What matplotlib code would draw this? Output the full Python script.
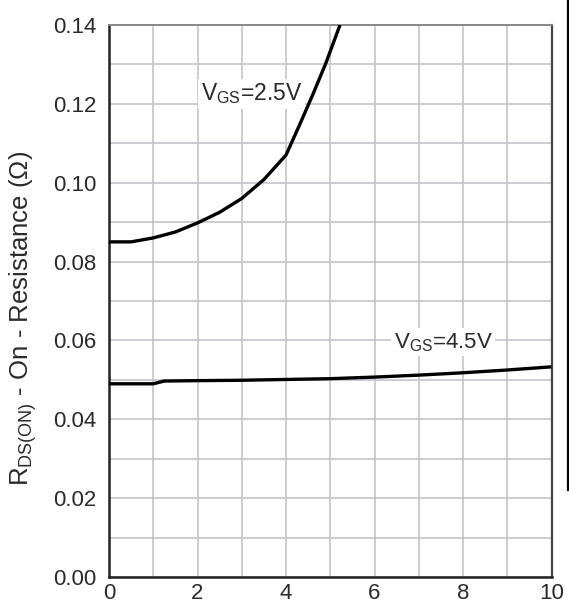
import matplotlib
matplotlib.use("Agg")
import matplotlib.pyplot as plt
from matplotlib.lines import Line2D
import numpy as np

# Data
vgs25_x = [0, 0.5, 1.0, 1.5, 2.0, 2.5, 3.0, 3.5, 4.0, 4.3, 4.6, 4.9, 5.22]
vgs25_y = [0.085, 0.085, 0.086, 0.0875, 0.0898, 0.0925, 0.096, 0.1008, 0.107, 0.1145, 0.1222, 0.1303, 0.140]
vgs45_x = [0, 1.0, 1.25, 2, 3, 4, 5, 6, 7, 8, 9, 10]
vgs45_y = [0.049, 0.049, 0.0497, 0.0498, 0.0499, 0.0501, 0.0503, 0.0507, 0.0512, 0.0518, 0.0525, 0.0533]
xticks = [0, 2, 4, 6, 8, 10]
yticks = [0.00, 0.02, 0.04, 0.06, 0.08, 0.10, 0.12, 0.14]
label25 = "V$_{\\mathrm{GS}}$=2.5V"
label45 = "V$_{\\mathrm{GS}}$=4.5V"
ylabel = "R$_{\\mathrm{DS(ON)}}$ - On - Resistance (Ω)"

plt.rcParams['font.family'] = ['Liberation Sans', 'DejaVu Sans']
plt.rcParams['mathtext.fontset'] = 'custom'
plt.rcParams['mathtext.rm'] = 'Liberation Sans'
plt.rcParams['mathtext.it'] = 'Liberation Sans'

W, H = 569, 608
fig = plt.figure(figsize=(W/100, H/100), dpi=100)
L, R, T, B = 109, 551.5, 25, 577
ax = fig.add_axes([L/W, 1-B/H, (R-L)/W, (B-T)/H])

txtc = '#2a2a2a'
ax.set_xlim(0, 10)
ax.set_ylim(0, 0.14)
ax.set_xticks(xticks)
ax.set_xticklabels([f"{v:g}" for v in xticks])
ax.set_yticks(yticks)
ax.set_yticklabels([f"{v:.2f}" for v in yticks])
ax.set_xticks(np.arange(0, 11, 1), minor=True)
ax.set_yticks(np.arange(0, 0.141, 0.01), minor=True)
ax.grid(True, which='both', color='#c4c4cc', linewidth=1.2, zorder=0)
ax.set_axisbelow(True)
ax.tick_params(which='both', length=0, labelsize=16, colors=txtc)
ax.tick_params(axis='x', pad=4)
ax.tick_params(axis='y', pad=9)
for s in ['left', 'bottom']:
    ax.spines[s].set_color('#222222')
    ax.spines[s].set_linewidth(1.8)
ax.spines['right'].set_color('#444444')
ax.spines['right'].set_linewidth(1.6)
ax.spines['top'].set_color('#888888')
ax.spines['top'].set_linewidth(1.4)

ax.plot(vgs25_x, vgs25_y, color='black', linewidth=2.4, solid_capstyle='butt', zorder=4)
ax.plot(vgs45_x, vgs45_y, color='black', linewidth=2.4, solid_capstyle='butt', zorder=4)

bb = dict(facecolor='white', edgecolor='none', pad=2)
ax.text(2.08, 0.1225, label25, fontsize=16.5, color=txtc, va='center', ha='left', bbox=bb, zorder=3)
ax.text(6.44, 0.0595, label45, fontsize=16, color=txtc, va='center', ha='left', bbox=bb, zorder=3)

fig.text(23/W, 1-318/H, ylabel, rotation=90, fontsize=18.5, color=txtc, ha='center', va='center')

fig.add_artist(Line2D([567.5/W, 567.5/W], [1.0, 1-490/H], color='black', linewidth=1.6))

fig.savefig("out.png", dpi=100)
